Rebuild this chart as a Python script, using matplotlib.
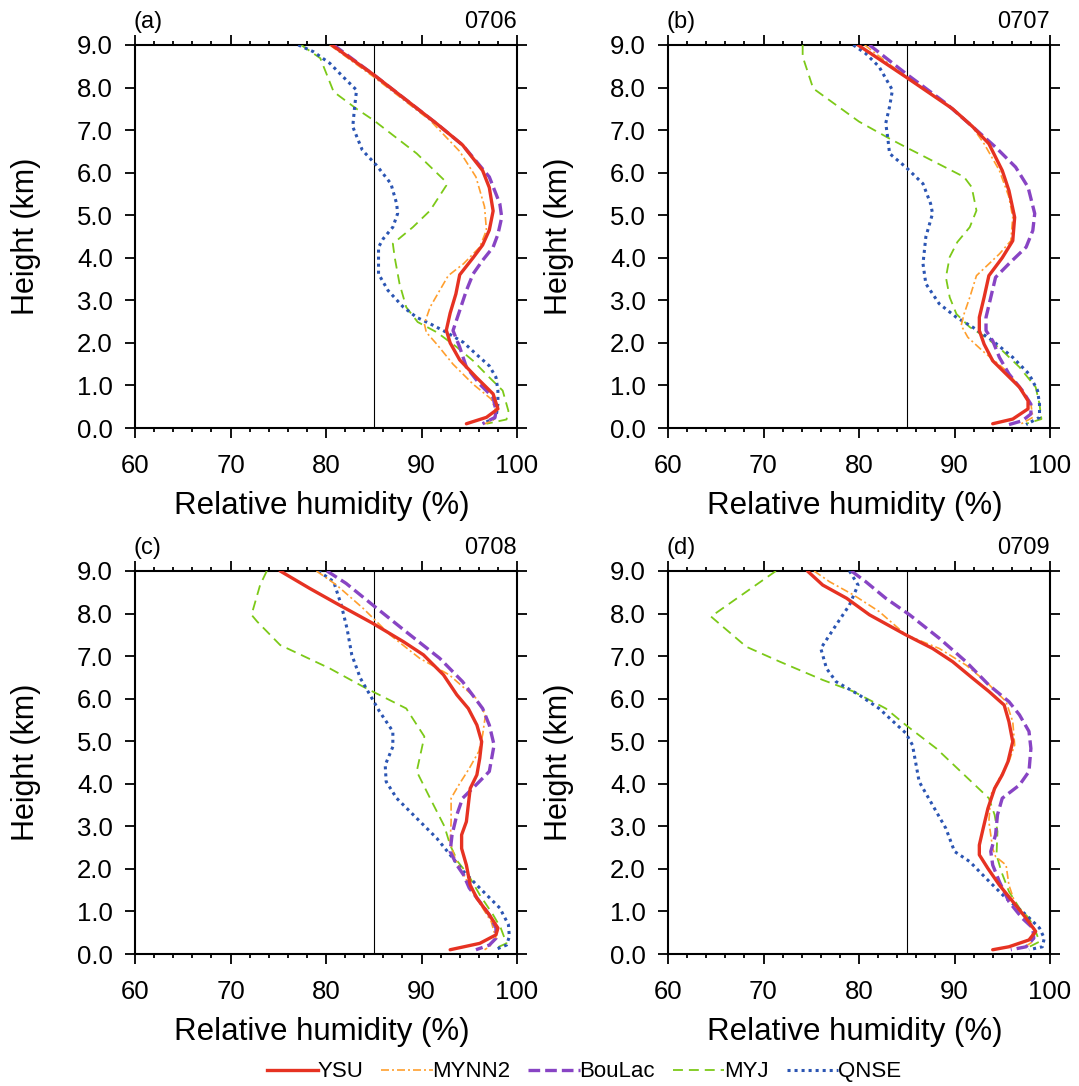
import matplotlib
matplotlib.use("Agg")
import matplotlib.pyplot as plt
from matplotlib.ticker import MultipleLocator
from matplotlib.lines import Line2D

plt.rcParams['font.family'] = ['Liberation Sans', 'DejaVu Sans']

# ---- data: relative humidity (%) vs height (km) ----
schemes = ['YSU', 'MYNN2', 'BouLac', 'MYJ', 'QNSE']
dates = ['0706', '0707', '0708', '0709']
panel_tags = ['(a)', '(b)', '(c)', '(d)']
ref_rh = 85

# panel (a) 0706
a_ysu_rh = [80.6, 85.0, 91.6, 94.3, 96.4, 97.1, 97.5, 97.1, 96.4, 95.4, 94.0, 93.6, 93.0, 92.6, 93.0, 94.0, 95.7, 97.5, 98.0, 96.8, 94.7]
a_ysu_z = [9.0, 8.3, 7.15, 6.65, 6.05, 5.65, 5.1, 4.65, 4.3, 4.0, 3.6, 3.15, 2.7, 2.3, 2.0, 1.6, 1.2, 0.8, 0.45, 0.25, 0.1]
a_mynn_rh = [80.4, 85.0, 90.9, 94.0, 95.7, 96.6, 96.8, 96.1, 94.4, 92.8, 91.9, 90.9, 90.3, 90.5, 91.6, 93.3, 95.4, 97.3, 97.8, 97.5, 96.6]
a_mynn_z = [9.0, 8.25, 7.23, 6.5, 5.9, 5.2, 4.65, 4.25, 3.86, 3.58, 3.23, 2.84, 2.45, 2.25, 1.97, 1.5, 1.03, 0.68, 0.4, 0.17, 0.1]
a_boulac_rh = [80.8, 85.0, 91.6, 94.3, 97.1, 98.2, 98.4, 98.0, 97.5, 96.4, 95.4, 94.7, 94.0, 93.3, 94.0, 94.7, 96.1, 97.5, 97.8, 97.7, 96.4]
a_boulac_z = [9.0, 8.3, 7.15, 6.65, 5.9, 5.27, 4.95, 4.55, 4.25, 3.94, 3.62, 3.23, 2.76, 2.29, 1.9, 1.43, 1.03, 0.72, 0.4, 0.25, 0.1]
a_myj_rh = [77.4, 79.4, 80.8, 83.2, 85.0, 89.5, 92.4, 92.6, 90.9, 89.1, 87.0, 87.2, 87.7, 88.4, 89.6, 91.6, 93.7, 95.4, 97.1, 98.5, 99.1, 98.9, 96.8]
a_myj_z = [9.0, 8.69, 7.9, 7.5, 7.23, 6.45, 5.82, 5.7, 5.11, 4.72, 4.33, 4.0, 3.39, 2.84, 2.49, 2.25, 1.9, 1.58, 1.19, 0.88, 0.4, 0.2, 0.1]
a_qnse_rh = [77.1, 78.7, 80.4, 81.8, 83.2, 83.0, 82.8, 83.8, 85.3, 86.8, 87.4, 87.5, 87.0, 86.0, 85.5, 85.5, 86.5, 88.1, 89.5, 90.9, 92.6, 94.4, 95.7, 97.1, 97.8, 98.0, 98.0, 97.8, 96.4]
a_qnse_z = [9.0, 8.84, 8.57, 8.25, 7.94, 7.55, 7.08, 6.53, 6.17, 5.74, 5.27, 5.04, 4.72, 4.45, 4.25, 3.62, 3.23, 2.84, 2.6, 2.45, 2.25, 2.01, 1.74, 1.46, 1.19, 0.88, 0.56, 0.25, 0.1]

# panel (b) 0707
b_ysu_rh = [79.9, 84.9, 89.8, 91.9, 93.6, 95.0, 95.7, 96.3, 96.1, 95.0, 93.6, 93.1, 92.6, 92.6, 93.1, 94.0, 95.4, 96.8, 97.7, 97.7, 96.1, 94.0]
b_ysu_z = [9.0, 8.25, 7.5, 7.08, 6.68, 6.05, 5.58, 4.95, 4.4, 4.0, 3.58, 3.07, 2.6, 2.29, 1.97, 1.58, 1.27, 0.96, 0.64, 0.45, 0.21, 0.1]
b_mynn_rh = [80.6, 84.9, 89.5, 91.6, 93.1, 94.7, 95.7, 96.1, 95.9, 94.7, 92.3, 91.6, 91.0, 90.7, 91.4, 92.9, 95.4, 97.1, 98.0, 98.2, 97.0]
b_mynn_z = [9.0, 8.25, 7.55, 7.16, 6.68, 6.05, 5.43, 4.95, 4.4, 4.09, 3.58, 3.07, 2.68, 2.41, 2.13, 1.82, 1.35, 0.88, 0.56, 0.25, 0.1]
b_boulac_rh = [81.1, 84.9, 89.1, 91.9, 94.3, 96.4, 97.7, 98.4, 98.2, 97.5, 95.7, 94.3, 93.8, 93.3, 93.3, 94.0, 94.7, 95.7, 97.1, 98.0, 98.0, 97.1, 95.7]
b_boulac_z = [9.0, 8.33, 7.63, 7.08, 6.6, 6.13, 5.66, 5.04, 4.64, 4.25, 3.86, 3.54, 3.07, 2.6, 2.29, 2.05, 1.66, 1.27, 0.88, 0.56, 0.33, 0.17, 0.08]
b_myj_rh = [74.1, 74.1, 75.2, 77.6, 80.0, 83.2, 84.9, 91.0, 91.8, 92.3, 91.6, 90.3, 89.5, 89.1, 89.5, 90.2, 91.6, 93.3, 95.0, 96.8, 98.5, 98.9, 99.1, 97.5]
b_myj_z = [9.0, 8.73, 7.98, 7.59, 7.2, 6.8, 6.6, 5.9, 5.66, 5.11, 4.72, 4.37, 4.02, 3.54, 3.07, 2.68, 2.37, 2.13, 1.82, 1.43, 0.96, 0.56, 0.21, 0.1]
b_qnse_rh = [79.4, 80.7, 82.1, 83.5, 83.2, 82.8, 83.0, 83.2, 84.9, 86.7, 87.5, 87.7, 87.0, 86.7, 87.0, 88.4, 90.2, 91.9, 94.0, 96.1, 97.8, 98.7, 98.9, 98.9, 97.5]
b_qnse_z = [9.0, 8.8, 8.49, 7.94, 7.55, 7.16, 6.84, 6.45, 6.13, 5.74, 5.27, 5.04, 4.49, 3.86, 3.39, 2.92, 2.6, 2.37, 2.05, 1.66, 1.27, 0.88, 0.56, 0.25, 0.08]

# panel (c) 0708
c_ysu_rh = [75.2, 78.3, 81.4, 84.9, 88.1, 90.2, 92.3, 93.7, 94.9, 95.8, 96.3, 96.1, 95.8, 95.1, 94.9, 94.7, 94.2, 94.2, 94.7, 95.1, 95.8, 97.1, 98.0, 97.8, 96.1, 93.0]
c_ysu_z = [9.0, 8.59, 8.2, 7.77, 7.34, 7.03, 6.56, 6.09, 5.77, 5.38, 4.99, 4.6, 4.21, 3.89, 3.5, 3.11, 2.8, 2.48, 2.09, 1.62, 1.31, 0.92, 0.61, 0.45, 0.25, 0.1]
c_mynn_rh = [79.0, 81.1, 83.9, 86.7, 89.8, 92.9, 95.7, 96.7, 96.4, 96.0, 95.0, 93.9, 93.1, 93.1, 93.0, 93.5, 94.4, 95.4, 96.4, 97.3, 97.8, 97.1, 96.6]
c_mynn_z = [9.0, 8.67, 8.12, 7.5, 6.95, 6.56, 6.01, 5.62, 5.15, 4.76, 4.36, 3.97, 3.66, 3.11, 2.64, 2.25, 1.86, 1.47, 1.08, 0.76, 0.37, 0.17, 0.1]
c_boulac_rh = [80.1, 82.1, 84.9, 88.4, 91.9, 94.3, 96.4, 97.1, 97.6, 97.1, 95.7, 94.3, 93.7, 93.2, 93.0, 93.7, 94.4, 95.0, 96.1, 97.1, 97.8, 97.8, 97.1, 95.7]
c_boulac_z = [9.0, 8.71, 8.2, 7.57, 6.95, 6.4, 5.77, 5.38, 4.91, 4.29, 3.97, 3.66, 3.27, 2.8, 2.41, 2.09, 1.86, 1.55, 1.23, 0.92, 0.61, 0.37, 0.21, 0.1]
c_myj_rh = [73.8, 73.1, 72.2, 72.8, 75.2, 80.4, 83.9, 88.4, 90.3, 89.5, 90.9, 92.4, 93.0, 93.8, 94.9, 96.1, 97.5, 98.3, 98.9, 97.7]
c_myj_z = [9.0, 8.67, 7.97, 7.81, 7.26, 6.71, 6.28, 5.77, 5.11, 4.29, 3.66, 3.0, 2.56, 2.17, 1.86, 1.39, 0.92, 0.61, 0.25, 0.13]
c_qnse_rh = [79.2, 80.8, 81.6, 82.2, 82.7, 83.6, 84.6, 85.6, 87.0, 87.0, 86.2, 86.3, 87.4, 89.5, 91.6, 93.0, 94.4, 96.1, 98.2, 99.1, 99.2, 98.9, 97.7]
c_qnse_z = [9.0, 8.75, 8.2, 7.65, 7.03, 6.48, 6.09, 5.7, 5.23, 4.87, 4.44, 4.05, 3.66, 3.19, 2.72, 2.33, 1.94, 1.55, 1.08, 0.69, 0.41, 0.21, 0.1]

# panel (d) 0709
d_ysu_rh = [74.6, 76.2, 78.7, 81.1, 84.9, 87.7, 89.8, 91.9, 93.6, 95.2, 95.7, 96.1, 95.6, 95.0, 94.2, 93.5, 93.0, 92.6, 92.6, 93.5, 94.7, 96.4, 97.5, 98.5, 97.8, 95.7, 94.0]
d_ysu_z = [9.0, 8.67, 8.36, 7.97, 7.5, 7.18, 6.87, 6.48, 6.17, 5.85, 5.46, 4.99, 4.52, 4.21, 3.89, 3.42, 2.95, 2.56, 2.33, 2.01, 1.62, 1.15, 0.84, 0.53, 0.33, 0.17, 0.1]
d_mynn_rh = [75.3, 76.9, 79.4, 82.1, 84.9, 88.4, 91.2, 93.3, 95.4, 96.1, 96.3, 95.7, 94.7, 93.8, 93.6, 94.0, 94.3, 95.4, 95.7, 96.4, 97.5, 98.5, 98.2, 97.1]
d_mynn_z = [9.0, 8.75, 8.44, 8.05, 7.5, 7.18, 6.79, 6.4, 5.93, 5.46, 4.91, 4.52, 4.13, 3.74, 3.11, 2.48, 2.29, 2.09, 1.62, 1.15, 0.84, 0.53, 0.29, 0.13]
d_boulac_rh = [79.2, 80.7, 82.8, 85.3, 88.4, 91.2, 93.6, 95.7, 96.8, 97.8, 98.0, 97.8, 96.8, 95.0, 94.5, 94.3, 93.8, 94.0, 94.7, 95.7, 97.1, 98.2, 98.3, 97.5, 95.9]
d_boulac_z = [9.0, 8.75, 8.36, 7.97, 7.42, 6.87, 6.32, 5.93, 5.62, 5.23, 4.83, 4.29, 3.97, 3.66, 3.27, 2.8, 2.41, 2.09, 1.7, 1.23, 0.84, 0.61, 0.37, 0.17, 0.1]
d_myj_rh = [71.3, 64.5, 68.2, 71.7, 76.2, 79.4, 82.8, 84.9, 88.1, 93.6, 94.2, 94.5, 94.4, 94.9, 95.7, 96.8, 97.8, 98.5, 98.9, 97.5]
d_myj_z = [9.0, 7.93, 7.22, 6.87, 6.44, 6.17, 5.77, 5.38, 4.83, 3.66, 3.27, 2.88, 2.33, 1.94, 1.47, 1.08, 0.84, 0.53, 0.29, 0.13]
d_qnse_rh = [79.0, 79.9, 79.0, 77.6, 76.0, 76.6, 77.6, 80.0, 82.1, 84.9, 85.6, 86.3, 87.7, 89.1, 90.0, 91.6, 93.3, 95.4, 97.5, 98.9, 99.4, 99.2, 97.8]
d_qnse_z = [9.0, 8.67, 8.2, 7.73, 7.18, 6.71, 6.4, 6.09, 5.77, 5.19, 4.91, 4.05, 3.5, 2.95, 2.41, 2.17, 1.78, 1.31, 0.92, 0.61, 0.37, 0.17, 0.1]

panels = [
    [(a_ysu_rh, a_ysu_z), (a_mynn_rh, a_mynn_z), (a_boulac_rh, a_boulac_z), (a_myj_rh, a_myj_z), (a_qnse_rh, a_qnse_z)],
    [(b_ysu_rh, b_ysu_z), (b_mynn_rh, b_mynn_z), (b_boulac_rh, b_boulac_z), (b_myj_rh, b_myj_z), (b_qnse_rh, b_qnse_z)],
    [(c_ysu_rh, c_ysu_z), (c_mynn_rh, c_mynn_z), (c_boulac_rh, c_boulac_z), (c_myj_rh, c_myj_z), (c_qnse_rh, c_qnse_z)],
    [(d_ysu_rh, d_ysu_z), (d_mynn_rh, d_mynn_z), (d_boulac_rh, d_boulac_z), (d_myj_rh, d_myj_z), (d_qnse_rh, d_qnse_z)],
]

# line styles per scheme
colors = ['#e63222', '#ff9f2e', '#8844c4', '#7cc918', '#2b55b3']
widths = [2.4, 1.2, 2.4, 1.3, 2.2]
styles = ['-', (0, (4.8, 1.8, 1.2, 1.8)), (0, (3.5, 1.5)), (0, (5.5, 3.3)), (0, (1, 1.3))]
zorders = [6, 4, 5, 3, 3]

W, H = 1079, 1086
fig = plt.figure(figsize=(W / 100, H / 100), dpi=100)

# axes boxes in pixels: left, top
boxes = [(135, 45), (668, 45), (135, 571), (668, 571)]
aw, ah = 382, 383

for i, (lx, ty) in enumerate(boxes):
    ax = fig.add_axes([lx / W, 1 - (ty + ah) / H, aw / W, ah / H])
    for j in range(5):
        rh, z = panels[i][j]
        ax.plot(rh, z, color=colors[j], lw=widths[j], linestyle=styles[j],
                zorder=zorders[j], solid_capstyle='round')
    ax.axvline(ref_rh, color='black', lw=0.8, zorder=2)

    ax.set_xlim(60, 100)
    ax.set_ylim(0, 9)
    ax.xaxis.set_major_locator(MultipleLocator(10))
    ax.xaxis.set_minor_locator(MultipleLocator(2))
    ax.set_yticks(range(10))
    ax.set_yticklabels(['%.1f' % v for v in range(10)])
    ax.tick_params(which='both', direction='out', top=True, right=True, width=1.3)
    ax.tick_params(which='major', length=7)
    ax.tick_params(which='minor', length=3)
    ax.tick_params(axis='x', which='major', labelsize=18.5, pad=12)
    ax.tick_params(axis='y', which='major', labelsize=18.5, pad=9)
    for s in ax.spines.values():
        s.set_linewidth(1.5)

    ax.set_xlabel('Relative humidity (%)', fontsize=22.5)
    ax.xaxis.set_label_coords(0.49, -0.165)
    ax.set_ylabel('Height (km)', fontsize=22)
    ax.yaxis.set_label_coords(-0.245, 0.5)

    ax.annotate(panel_tags[i], xy=(0, 1), xycoords='axes fraction', xytext=(-1, 12),
                textcoords='offset points', ha='left', va='baseline', fontsize=17)
    ax.annotate(dates[i], xy=(1, 1), xycoords='axes fraction', xytext=(0, 12),
                textcoords='offset points', ha='right', va='baseline', fontsize=17)

handles = [Line2D([], [], color=colors[j], lw=widths[j], linestyle=styles[j]) for j in range(5)]
fig.legend(handles, schemes, loc='center', bbox_to_anchor=(0.541, 0.013), ncol=5,
           frameon=False, fontsize=16, handlelength=2.3, handletextpad=0.0,
           columnspacing=0.8, borderaxespad=0)

fig.savefig('out.png', dpi=100)
